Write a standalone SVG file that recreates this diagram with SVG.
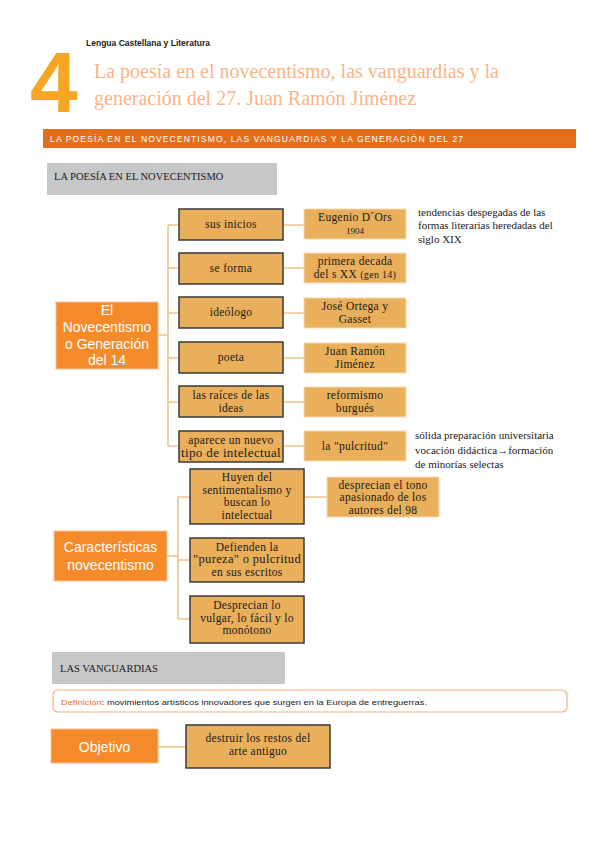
<svg xmlns="http://www.w3.org/2000/svg" width="599" height="848" viewBox="0 0 599 848">
<style>
.bg{fill:#ffffff}
.b2{fill:#E9AF5B;stroke:#3a3a3a;stroke-width:1.5}
.b3{fill:#E9AF5B;stroke:#F6D9B0;stroke-width:1}
.main{fill:#F58A2A;stroke:#F9C090;stroke-width:1}
.gray{fill:#C6C7C9}
.ln{stroke:#F0C48A;stroke-width:1.6;fill:none}
.t{font-family:"Liberation Serif","DejaVu Serif",serif;font-size:11.5px;fill:#1a1a1a;text-anchor:middle;letter-spacing:0.3px}
.ts{font-family:"Liberation Serif","DejaVu Serif",serif;font-size:9px;fill:#1a1a1a}
.w{font-family:"Liberation Sans",Arial,sans-serif;font-size:14px;fill:#ffffff;text-anchor:middle}
.note{font-family:"Liberation Serif","DejaVu Serif",serif;font-size:11px;fill:#1a1a1a}
.sec{font-family:"Liberation Serif","DejaVu Serif",serif;font-size:10.5px;fill:#1a1a1a}
</style>
<rect class="bg" x="0" y="0" width="599" height="848"/>

<g id="header">
<text x="86" y="46" font-family="Liberation Sans,Arial,sans-serif" font-size="8.5" font-weight="bold" fill="#1a1a1a" textLength="124" lengthAdjust="spacingAndGlyphs">Lengua Castellana y Literatura</text>
<text x="30" y="112" font-family="Liberation Sans,Arial,sans-serif" font-size="86" font-weight="bold" fill="#F7A623">4</text>
<text x="94" y="78" font-family="Liberation Serif,serif" font-size="20" fill="#F9B586">La poesía en el novecentismo, las vanguardias y la</text>
<text x="94" y="105" font-family="Liberation Serif,serif" font-size="20" fill="#F9B586">generación del 27. Juan Ramón Jiménez</text>
<rect x="43" y="129" width="533" height="19" fill="#E36F1D"/>
<text x="50" y="142" font-family="Liberation Sans,Arial,sans-serif" font-size="8.5" fill="#ffffff" textLength="413" lengthAdjust="spacing">LA POESÍA EN EL NOVECENTISMO, LAS VANGUARDIAS Y LA GENERACIÓN DEL 27</text>
</g>

<g id="sec1">
<rect class="gray" x="47" y="163" width="230" height="32"/>
<text class="sec" x="54" y="180">LA POESÍA EN EL NOVECENTISMO</text>
</g>

<g id="connectors">
<path class="ln" d="M158 335H168M168 225V446M168 225H179M168 268H179M168 313H179M168 358H179M168 402H179M168 446H179"/>
<path class="ln" d="M283 225H304M283 268H304M283 313H304M283 358H304M283 402H304M283 446H304"/>
<path class="ln" d="M167 556H178M178 497V619M178 497H190M178 560H190M178 619H190M304 497H327"/>
<path class="ln" d="M158 747H186"/>
</g>

<g id="n-main">
<rect class="main" x="56" y="302" width="102" height="67"/>
<text class="w" x="107" y="315">El</text>
<text class="w" x="107" y="332">Novecentismo</text>
<text class="w" x="107" y="349">o Generación</text>
<text class="w" x="107" y="365">del  14</text>
</g>

<g id="n-inicios"><rect class="b2" x="179" y="209" width="104" height="31"/><text class="t" x="231" y="228">sus inicios</text></g>
<g id="n-forma"><rect class="b2" x="179" y="253" width="104" height="31"/><text class="t" x="231" y="272">se forma</text></g>
<g id="n-ideologo"><rect class="b2" x="179" y="297" width="104" height="31"/><text class="t" x="231" y="316">ideólogo</text></g>
<g id="n-poeta"><rect class="b2" x="179" y="342" width="104" height="31"/><text class="t" x="231" y="361">poeta</text></g>
<g id="n-raices"><rect class="b2" x="179" y="386" width="104" height="31"/><text class="t" x="231" y="399">las raíces de las</text><text class="t" x="231" y="411.5">ideas</text></g>
<g id="n-aparece"><rect class="b2" x="179" y="431" width="104" height="31"/><text class="t" x="231" y="444">aparece un nuevo</text><text class="t" x="231" y="456.5" textLength="100" lengthAdjust="spacingAndGlyphs">tipo de intelectual</text></g>

<g id="n-dors"><rect class="b3" x="304" y="209" width="102" height="30"/><text class="t" x="355" y="221">Eugenio D´Ors</text><text class="ts" x="355" y="234" text-anchor="middle">1904</text></g>
<g id="n-decada"><rect class="b3" x="304" y="253" width="102" height="30"/><text class="t" x="355" y="265">primera decada</text><text class="t" x="355" y="277.5">del s XX <tspan font-size="10">(gen 14)</tspan></text></g>
<g id="n-ortega"><rect class="b3" x="304" y="298" width="102" height="30"/><text class="t" x="355" y="310">José Ortega y</text><text class="t" x="355" y="322.5">Gasset</text></g>
<g id="n-jrj"><rect class="b3" x="304" y="343" width="102" height="30"/><text class="t" x="355" y="355">Juan Ramón</text><text class="t" x="355" y="367.5">Jiménez</text></g>
<g id="n-reform"><rect class="b3" x="304" y="387" width="102" height="30"/><text class="t" x="355" y="399">reformismo</text><text class="t" x="355" y="411.5">burgués</text></g>
<g id="n-pulcri"><rect class="b3" x="304" y="431" width="102" height="30"/><text class="t" x="355" y="450">la "pulcritud"</text></g>

<g id="note1">
<text class="note" x="418" y="216">tendencias despegadas de las</text>
<text class="note" x="418" y="229">formas literarias heredadas del</text>
<text class="note" x="418" y="243">siglo XIX</text>
</g>
<g id="note2">
<text class="note" x="415" y="439">sólida preparación universitaria</text>
<text class="note" x="415" y="454">vocación didáctica→formación</text>
<text class="note" x="415" y="468">de minorías selectas</text>
</g>

<g id="n-caract">
<rect class="main" x="54" y="531" width="113" height="50"/>
<text class="w" x="110.5" y="552">Características</text>
<text class="w" x="110.5" y="570">novecentismo</text>
</g>
<g id="n-huyen"><rect class="b2" x="190" y="469" width="114" height="55"/>
<text class="t" x="247" y="481">Huyen del</text><text class="t" x="247" y="493.5">sentimentalismo y</text><text class="t" x="247" y="506">buscan lo</text><text class="t" x="247" y="518.5">intelectual</text></g>
<g id="n-defienden"><rect class="b2" x="190" y="538" width="114" height="44"/>
<text class="t" x="247" y="550.5">Defienden la</text><text class="t" x="247" y="563" textLength="108" lengthAdjust="spacingAndGlyphs">"pureza" o pulcritud</text><text class="t" x="247" y="575.5">en sus escritos</text></g>
<g id="n-desprecian"><rect class="b2" x="190" y="596" width="114" height="47"/>
<text class="t" x="247" y="609">Desprecian lo</text><text class="t" x="247" y="621.5">vulgar, lo fácil y lo</text><text class="t" x="247" y="634">monótono</text></g>
<g id="n-tono"><rect class="b3" x="327" y="477" width="112" height="40"/>
<text class="t" x="383" y="488.5">desprecian el tono</text><text class="t" x="383" y="501">apasionado de los</text><text class="t" x="383" y="513.5">autores del 98</text></g>

<g id="sec2">
<rect class="gray" x="52" y="652" width="233" height="32"/>
<text class="sec" x="60" y="672">LAS VANGUARDIAS</text>
</g>
<g id="definicion">
<rect x="53" y="690" width="514" height="22" rx="5" fill="#ffffff" stroke="#F4B07A" stroke-width="1.2"/>
<text x="61" y="705" font-family="Liberation Sans,Arial,sans-serif" font-size="7.5" fill="#1a1a1a" textLength="366" lengthAdjust="spacingAndGlyphs"><tspan fill="#E8731F">Definición</tspan>: movimientos artísticos  innovadores que surgen en la Europa de entreguerras.</text>
</g>
<g id="n-objetivo">
<rect class="main" x="51" y="729" width="107" height="34"/>
<text class="w" x="104.5" y="752" font-size="15">Objetivo</text>
</g>
<g id="n-destruir"><rect class="b2" x="186" y="725" width="144" height="43"/>
<text class="t" x="258" y="742">destruir los restos del</text><text class="t" x="258" y="754.5">arte antiguo</text></g>
</svg>
